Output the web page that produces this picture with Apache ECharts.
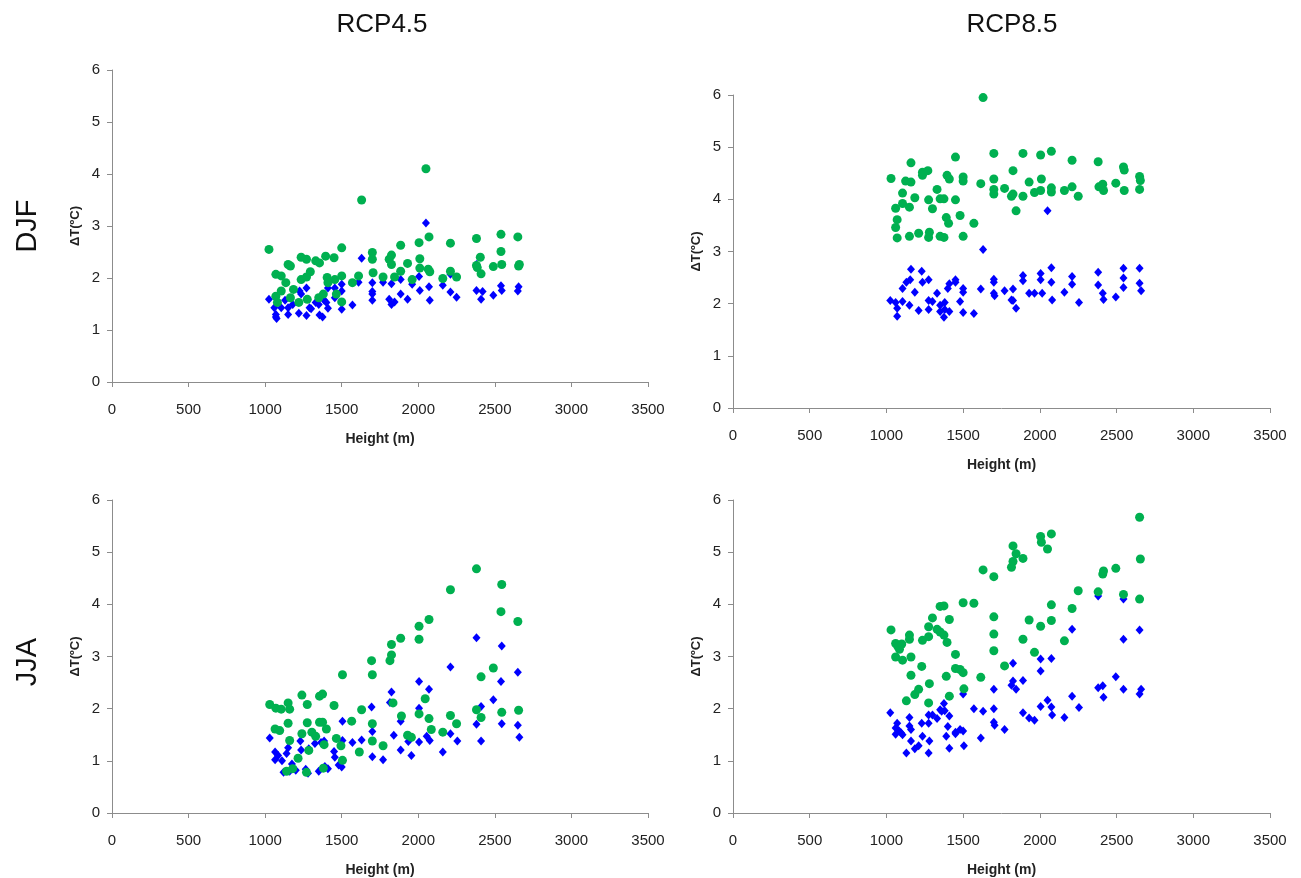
<!DOCTYPE html>
<html>
<head>
<meta charset="utf-8">
<script src="https://cdn.jsdelivr.net/npm/echarts@6/dist/echarts.min.js"></script>
<style>
html,body{margin:0;padding:0;background:#fff;}
#main{width:1301px;height:878px;}
</style>
</head>
<body>
<div id="main"></div>
<script>
// ΔT vs station height, [height m, dT]
var djf45Blue = [[1025,1.59],[1060,1.43],[1070,1.30],[1070,1.25],[1075,1.22],[1105,1.43],[1130,1.57],[1150,1.30],[1150,1.43],[1180,1.49],[1220,1.32],[1225,1.75],[1235,1.69],[1270,1.81],[1270,1.28],[1290,1.43],[1300,1.41],[1330,1.53],[1350,1.49],[1355,1.29],[1375,1.25],[1385,1.57],[1400,1.53],[1410,1.81],[1410,1.42],[1455,1.81],[1455,1.62],[1500,1.88],[1500,1.75],[1500,1.40],[1570,1.48],[1610,1.92],[1630,2.38],[1700,1.91],[1700,1.74],[1700,1.69],[1700,1.57],[1770,1.92],[1810,1.59],[1825,1.89],[1825,1.49],[1845,1.54],[1885,1.69],[1885,1.97],[1930,1.59],[1960,1.88],[2005,2.03],[2010,1.76],[2050,3.06],[2070,1.83],[2075,1.57],[2160,1.86],[2210,1.73],[2210,2.07],[2250,1.63],[2380,1.76],[2380,2.26],[2420,1.74],[2410,1.59],[2490,1.67],[2540,1.85],[2545,1.76],[2650,1.75],[2655,1.83]];
var djf45Green = [[1025,2.55],[1070,2.07],[1070,1.65],[1080,1.53],[1105,2.04],[1105,1.75],[1150,2.26],[1165,2.23],[1135,1.91],[1165,1.62],[1185,1.78],[1220,1.53],[1235,2.40],[1235,1.97],[1270,2.36],[1270,2.02],[1275,1.59],[1295,2.12],[1330,2.33],[1355,2.29],[1350,1.62],[1380,1.69],[1395,2.42],[1405,2.01],[1410,1.91],[1450,2.39],[1455,1.97],[1465,1.69],[1500,2.58],[1500,2.04],[1500,1.54],[1570,1.91],[1610,2.04],[1630,3.50],[1700,2.49],[1700,2.36],[1705,2.10],[1770,2.02],[1810,2.36],[1825,2.44],[1825,2.26],[1845,2.02],[1885,2.63],[1885,2.13],[1930,2.28],[1960,1.97],[2005,2.68],[2010,2.37],[2010,2.19],[2050,4.10],[2070,2.79],[2065,2.17],[2075,2.12],[2160,1.99],[2210,2.67],[2210,2.13],[2250,2.02],[2380,2.76],[2380,2.24],[2385,2.20],[2405,2.40],[2410,2.08],[2490,2.22],[2540,2.84],[2540,2.51],[2545,2.26],[2650,2.79],[2655,2.23],[2660,2.26]];

var djf85Blue = [[1025,2.06],[1060,2.02],[1070,1.91],[1070,1.76],[1105,2.29],[1105,2.04],[1130,2.41],[1150,1.97],[1155,2.46],[1160,2.66],[1185,2.22],[1210,1.87],[1230,2.62],[1235,2.41],[1275,2.46],[1275,2.06],[1275,1.89],[1300,2.04],[1330,2.20],[1350,1.97],[1350,1.85],[1375,1.74],[1380,2.02],[1380,1.89],[1400,2.29],[1410,2.38],[1410,1.85],[1450,2.46],[1450,2.41],[1480,2.04],[1500,2.29],[1500,2.22],[1500,1.83],[1570,1.81],[1615,2.28],[1630,3.04],[1700,2.47],[1700,2.41],[1700,2.20],[1705,2.15],[1770,2.25],[1815,2.07],[1825,2.28],[1825,2.06],[1845,1.91],[1890,2.54],[1890,2.44],[1930,2.20],[1965,2.20],[2005,2.58],[2005,2.46],[2015,2.20],[2050,3.78],[2075,2.69],[2075,2.41],[2080,2.07],[2160,2.22],[2210,2.52],[2210,2.37],[2255,2.02],[2380,2.60],[2380,2.36],[2410,2.20],[2415,2.08],[2495,2.13],[2545,2.68],[2545,2.49],[2545,2.31],[2650,2.68],[2650,2.39],[2660,2.25]];
var djf85Green = [[1030,4.40],[1060,3.83],[1070,3.61],[1060,3.46],[1070,3.26],[1105,4.12],[1105,3.92],[1125,4.35],[1150,3.85],[1150,3.29],[1160,4.70],[1160,4.33],[1185,4.03],[1210,3.35],[1235,4.52],[1235,4.46],[1270,4.55],[1275,3.99],[1280,3.37],[1275,3.27],[1300,3.82],[1330,4.19],[1350,4.01],[1350,3.29],[1375,4.01],[1375,3.27],[1390,3.65],[1395,4.46],[1405,3.54],[1410,4.39],[1450,4.81],[1450,3.99],[1480,3.69],[1500,4.43],[1500,4.35],[1500,3.29],[1570,3.54],[1615,4.30],[1630,5.95],[1700,4.88],[1700,4.39],[1700,4.19],[1700,4.10],[1770,4.21],[1815,4.06],[1825,4.55],[1825,4.10],[1845,3.78],[1890,4.88],[1890,4.06],[1930,4.33],[1965,4.13],[2005,4.85],[2010,4.39],[2005,4.17],[2075,4.92],[2075,4.22],[2075,4.14],[2160,4.17],[2210,4.75],[2210,4.24],[2250,4.06],[2380,4.72],[2385,4.24],[2410,4.29],[2415,4.17],[2495,4.31],[2545,4.62],[2550,4.56],[2550,4.17],[2650,4.44],[2655,4.36],[2650,4.19]];

var jja45Blue = [[2380,3.36],[2545,3.20],[2210,2.80],[2650,2.70],[2540,2.52],[2005,2.52],[2070,2.37],[1825,2.32],[1815,2.12],[2005,2.01],[1695,2.03],[1885,1.76],[1505,1.76],[2410,2.04],[2490,2.17],[2380,1.70],[2545,1.71],[2650,1.68],[2660,1.45],[2410,1.38],[2255,1.38],[2210,1.52],[2160,1.17],[2075,1.39],[2055,1.47],[2005,1.36],[1935,1.37],[1955,1.10],[1885,1.21],[1840,1.49],[1700,1.56],[1700,1.08],[1770,1.02],[1630,1.40],[1570,1.35],[1505,1.39],[1450,1.18],[1385,1.38],[1365,1.35],[1325,1.33],[1285,1.23],[1230,1.38],[1235,1.21],[1150,1.25],[1140,1.14],[1030,1.44],[1065,1.17],[1085,1.10],[1065,1.02],[1110,1.00],[1175,0.94],[1455,1.07],[1500,0.88],[1390,0.89],[1265,0.84],[1120,0.78],[1160,0.80],[1200,0.82],[1280,0.76],[1350,0.80],[1410,0.85],[1480,0.92]];
var jja45Green = [[2380,4.68],[2545,4.38],[2210,4.28],[2540,3.86],[2650,3.67],[2070,3.71],[2005,3.58],[2005,3.33],[1885,3.35],[1825,3.23],[1825,3.03],[1815,2.92],[1695,2.92],[1700,2.65],[1505,2.65],[2490,2.78],[2410,2.61],[1240,2.26],[1355,2.24],[1375,2.28],[1030,2.08],[1070,2.01],[1105,1.99],[1150,2.11],[1160,1.99],[1275,2.08],[1450,2.06],[1630,1.98],[1835,2.11],[2045,2.19],[2005,1.90],[1890,1.86],[2210,1.87],[2070,1.81],[2250,1.71],[2380,1.98],[2410,1.83],[2545,1.93],[2655,1.97],[1565,1.76],[1700,1.71],[1150,1.72],[1275,1.73],[1355,1.74],[1375,1.74],[1065,1.61],[1095,1.58],[1400,1.61],[1305,1.55],[1465,1.43],[1495,1.29],[1160,1.39],[1240,1.52],[1330,1.47],[1385,1.31],[1700,1.38],[1770,1.29],[1930,1.49],[1955,1.45],[2085,1.60],[2160,1.55],[1615,1.17],[1285,1.20],[1215,1.05],[1180,0.85],[1270,0.78],[1380,0.86],[1505,1.01],[1140,0.80]];

var jja85Blue = [[1025,1.92],[1060,1.63],[1070,1.72],[1060,1.51],[1080,1.58],[1095,1.54],[1105,1.50],[1130,1.15],[1150,1.83],[1150,1.67],[1160,1.60],[1160,1.38],[1185,1.23],[1210,1.29],[1230,1.72],[1235,1.47],[1275,1.88],[1275,1.72],[1280,1.38],[1275,1.15],[1300,1.88],[1330,1.81],[1350,1.98],[1360,1.95],[1375,2.10],[1380,1.96],[1390,1.47],[1400,1.66],[1410,1.86],[1410,1.24],[1450,1.55],[1450,1.52],[1480,1.60],[1500,2.28],[1500,1.57],[1505,1.29],[1570,2.00],[1615,1.44],[1630,1.95],[1700,2.37],[1700,2.00],[1700,1.74],[1705,1.68],[1770,1.60],[1815,2.45],[1825,2.87],[1825,2.53],[1845,2.37],[1890,2.54],[1890,1.92],[1930,1.82],[1965,1.78],[2005,2.95],[2005,2.72],[2005,2.04],[2050,2.16],[2075,2.96],[2075,2.03],[2080,1.88],[2160,1.83],[2210,3.52],[2210,2.24],[2255,2.02],[2380,4.16],[2380,2.40],[2410,2.44],[2415,2.22],[2495,2.61],[2545,4.10],[2545,3.33],[2545,2.37],[2650,3.51],[2650,2.28],[2660,2.37]];
var jja85Green = [[1030,3.51],[1060,2.99],[1060,3.25],[1075,3.19],[1085,3.14],[1100,3.24],[1105,2.93],[1130,2.15],[1150,3.41],[1150,3.33],[1160,2.99],[1160,2.64],[1185,2.27],[1210,2.37],[1230,2.81],[1235,3.31],[1275,3.57],[1275,3.38],[1280,2.48],[1275,2.11],[1300,3.74],[1330,3.52],[1350,3.96],[1350,3.47],[1375,3.97],[1375,3.41],[1395,3.27],[1390,2.62],[1410,3.71],[1410,2.24],[1450,3.04],[1450,2.77],[1480,2.75],[1500,4.03],[1500,2.69],[1505,2.38],[1570,4.02],[1615,2.60],[1630,4.66],[1700,4.53],[1700,3.76],[1700,3.43],[1700,3.11],[1770,2.82],[1815,4.71],[1825,4.82],[1825,5.12],[1845,4.97],[1890,4.88],[1890,3.33],[1930,3.70],[1965,3.08],[2005,5.30],[2010,5.19],[2005,3.58],[2050,5.06],[2075,5.35],[2075,3.99],[2075,3.69],[2160,3.30],[2210,3.92],[2250,4.26],[2380,4.24],[2410,4.58],[2415,4.64],[2495,4.69],[2545,4.19],[2650,5.67],[2655,4.87],[2650,4.10]];

var colTitles = ['RCP4.5', 'RCP8.5'];
var rowTitles = ['DJF', 'JJA'];
var xName = 'Height (m)';
var yName = 'ΔT(ºC)';

var panels = [
    {grid:{left:112, top:70, width:536, height:312}, blue:djf45Blue, green:djf45Green},
    {grid:{left:733, top:95, width:537, height:313}, blue:djf85Blue, green:djf85Green},
    {grid:{left:112, top:500, width:536, height:313}, blue:jja45Blue, green:jja45Green},
    {grid:{left:733, top:500, width:537, height:313}, blue:jja85Blue, green:jja85Green}
];

var fontFam = '"Liberation Sans", Arial, sans-serif';
var axisColor = '#8c8c8c';
var plain = function(v){ return String(v); };

var grids = [], xAxes = [], yAxes = [], series = [];
panels.forEach(function(p, i){
    grids.push(p.grid);
    xAxes.push({
        type:'value', gridIndex:i, min:0, max:3500, interval:500,
        splitLine:{show:false},
        axisLine:{show:true, onZero:false, lineStyle:{color:axisColor, width:1}},
        axisTick:{show:true, length:5, lineStyle:{color:axisColor}},
        axisLabel:{fontSize:15, color:'#222', margin:20, fontFamily:fontFam, formatter:plain},
        name:xName, nameLocation:'middle', nameGap:50,
        nameTextStyle:{fontSize:14, fontWeight:'bold', color:'#222', fontFamily:fontFam}
    });
    yAxes.push({
        type:'value', gridIndex:i, min:0, max:6, interval:1,
        splitLine:{show:false},
        axisLine:{show:true, onZero:false, lineStyle:{color:axisColor, width:1}},
        axisTick:{show:true, length:5, lineStyle:{color:axisColor}},
        axisLabel:{fontSize:15, color:'#222', margin:12, fontFamily:fontFam, formatter:plain},
        name:yName, nameLocation:'middle', nameGap:30,
        nameTextStyle:{fontSize:13, fontWeight:'bold', color:'#222', fontFamily:fontFam}
    });
    series.push({
        type:'scatter', xAxisIndex:i, yAxisIndex:i, data:p.blue,
        symbol:'diamond', symbolSize:[8,9],
        itemStyle:{color:'#0000ff', opacity:1}, silent:true
    });
    series.push({
        type:'scatter', xAxisIndex:i, yAxisIndex:i, data:p.green,
        symbol:'circle', symbolSize:9,
        itemStyle:{color:'#00b050', opacity:1}, silent:true
    });
});

var titleFont = '26px ' + fontFam;
var rowFont = '29px ' + fontFam;

var myChart = echarts.init(document.getElementById('main'));
var option = {
    backgroundColor:'#fff',
    animation:false,
    grid:grids,
    xAxis:xAxes,
    yAxis:yAxes,
    series:series,
    graphic:[
        {type:'text', x:382, y:25, style:{text:colTitles[0], font:titleFont, fill:'#111', align:'center', verticalAlign:'middle'}},
        {type:'text', x:1012, y:25, style:{text:colTitles[1], font:titleFont, fill:'#111', align:'center', verticalAlign:'middle'}},
        {type:'text', x:28, y:226, rotation:Math.PI/2, style:{text:rowTitles[0], font:rowFont, fill:'#111', align:'center', verticalAlign:'middle'}},
        {type:'text', x:28, y:662, rotation:Math.PI/2, style:{text:rowTitles[1], font:rowFont, fill:'#111', align:'center', verticalAlign:'middle'}}
    ]
};
myChart.setOption(option);
</script>
</body>
</html>
